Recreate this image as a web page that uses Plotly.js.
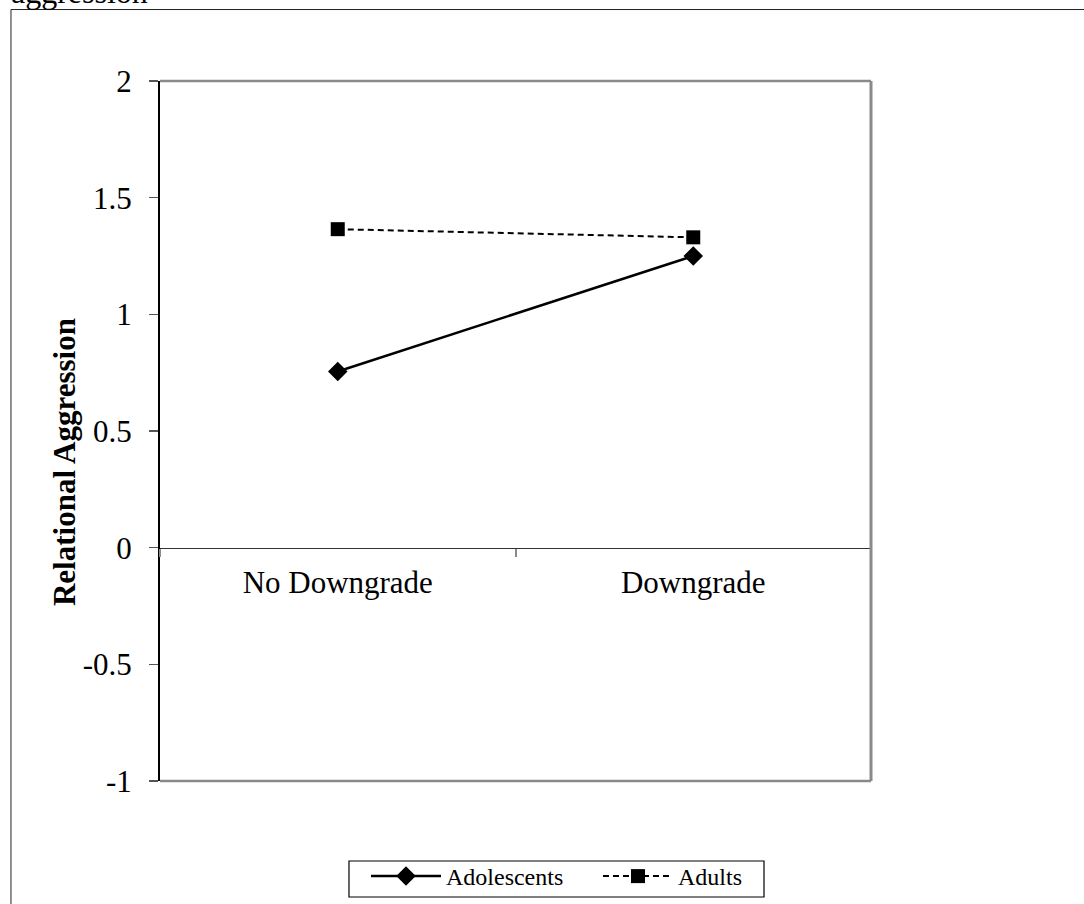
<!DOCTYPE html>
<html>
<head>
<meta charset="utf-8">
<script src="https://cdn.plot.ly/plotly-3.0.1.min.js"></script>
<style>html,body{margin:0;padding:0;background:#fff;}#chart{width:1084px;height:904px;}</style>
</head>
<body>
<div id="chart"></div>
<script>
const categories = ['No Downgrade', 'Downgrade'];
const adolescents = [0.755, 1.25];
const adults = [1.365, 1.33];
const yTicks = [-1, -0.5, 0, 0.5, 1, 1.5, 2];
const yTickLabels = ['-1', '-0.5', '0', '0.5', '1', '1.5', '2'];
const yTitle = 'Relational Aggression';
const topText = 'aggression';

const serif = '"Liberation Serif", "Times New Roman", serif';

const traces = [
  {
    x: categories, y: adolescents, name: 'Adolescents', type: 'scatter', mode: 'lines+markers',
    line: {color: '#000', width: 2.5, dash: 'solid'},
    marker: {symbol: 'diamond', size: 15, color: '#000'}
  },
  {
    x: categories, y: adults, name: 'Adults', type: 'scatter', mode: 'lines+markers',
    line: {color: '#000', width: 2, dash: '6px,4px'},
    marker: {symbol: 'square', size: 14, color: '#000'}
  }
];

const gray = '#8a8a8a';
const layout = {
  width: 1084, height: 904,
  margin: {l: 160, r: 213, t: 81, b: 123, autoexpand: false},
  paper_bgcolor: '#fff', plot_bgcolor: '#fff',
  font: {family: serif, color: '#000', size: 31},
  showlegend: true,
  legend: {
    orientation: 'h', x: 0.2897, xanchor: 'left', y: -0.1043, yanchor: 'top',
    borderwidth: 0, bgcolor: 'rgba(0,0,0,0)', font: {family: serif, size: 24, color: '#000'},
    itemwidth: 70, entrywidth: 147, entrywidthmode: 'pixels', tracegroupgap: 0
  },
  xaxis: {
    type: 'category', categoryorder: 'array', categoryarray: categories,
    range: [-0.5, 1.5], anchor: 'free', position: 1/3, automargin: false,
    showline: true, linecolor: '#333', linewidth: 1.5,
    ticks: 'outside', tickson: 'boundaries', ticklen: 8, tickcolor: gray, tickwidth: 2,
    showgrid: false, zeroline: false, ticklabelstandoff: 7,
    tickfont: {family: serif, size: 31, color: '#000'}
  },
  yaxis: {
    range: [-1, 2], tickvals: yTicks, ticktext: yTickLabels, automargin: false,
    showline: true, linecolor: '#000', linewidth: 2,
    ticks: 'outside', ticklen: 9, tickcolor: '#555', tickwidth: 1.5,
    showgrid: false, zeroline: false, ticklabelstandoff: 11,
    tickfont: {family: serif, size: 31, color: '#000'}
  },
  shapes: [
    {type: 'line', xref: 'paper', yref: 'paper', x0: 0, x1: 1, y0: 1, y1: 1, line: {color: gray, width: 2.5}},
    {type: 'line', xref: 'paper', yref: 'paper', x0: 1, x1: 1, y0: 0, y1: 1, line: {color: gray, width: 3}},
    {type: 'line', xref: 'paper', yref: 'paper', x0: 0, x1: 1, y0: 0, y1: 0, line: {color: gray, width: 2.5}},
    {type: 'line', xref: 'paper', yref: 'paper', x0: -0.2096, x1: 1.4, y0: 1.1021, y1: 1.1021, line: {color: '#222', width: 1}},
    {type: 'line', xref: 'paper', yref: 'paper', x0: -0.2096, x1: -0.2096, y0: -0.2, y1: 1.1021, line: {color: '#222', width: 1}},
    {type: 'rect', xref: 'paper', yref: 'paper', x0: 0.2658, x1: 0.8495, y0: -0.1657, y1: -0.1143, line: {color: '#000', width: 1.2}}
  ],
  annotations: [
    {text: topText, xref: 'paper', yref: 'paper', x: -0.2125, xanchor: 'left', y: 1.098, yanchor: 'bottom',
     showarrow: false, font: {family: serif, size: 32, color: '#000'}},
    {text: '<b>' + yTitle + '</b>', xref: 'paper', yref: 'paper', x: -0.135, xanchor: 'center', y: 0.4557, yanchor: 'middle',
     textangle: -90, showarrow: false, font: {family: serif, size: 31, color: '#000'}}
  ]
};

Plotly.newPlot('chart', traces, layout, {displayModeBar: false, staticPlot: true});
</script>
</body>
</html>
